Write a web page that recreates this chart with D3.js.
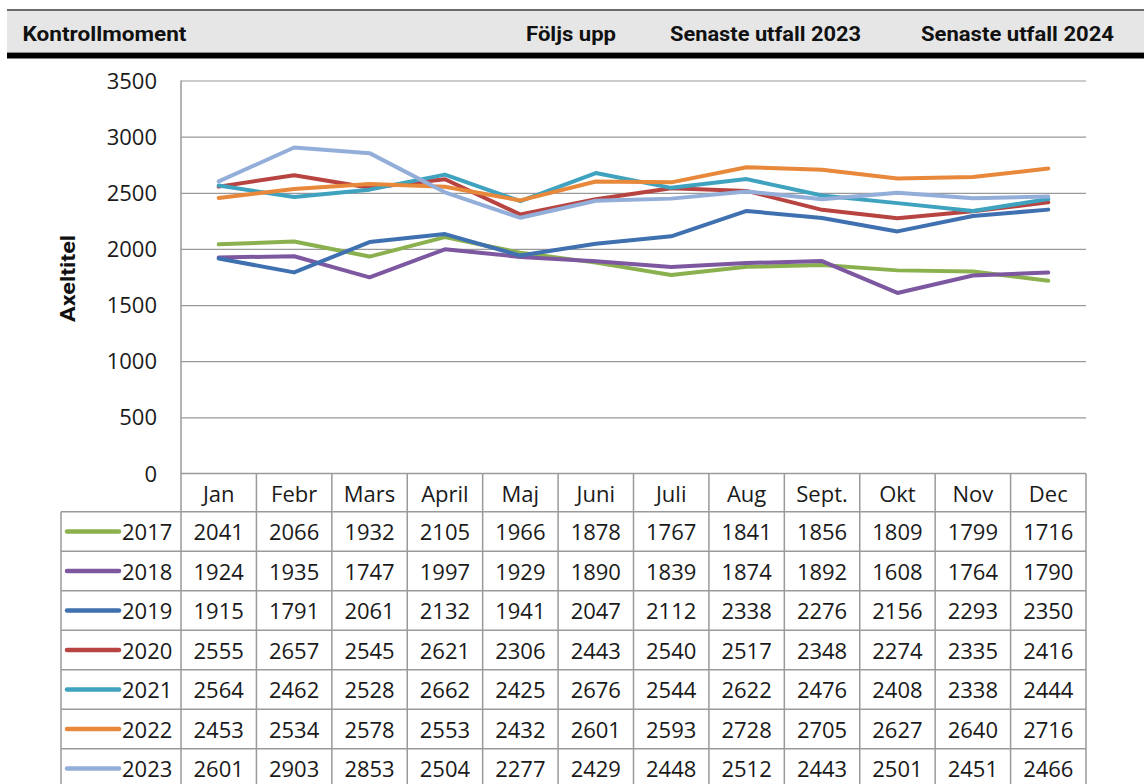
<!DOCTYPE html>
<html lang="sv">
<head>
    <meta charset="UTF-8">
    <title>Kontrollmoment</title>
    <script src="https://d3js.org/d3.v7.min.js"></script>
    <style>
        body { margin: 0; background: #fff; }
        svg { display: block; }
        .cell { font-family: "Open Sans", sans-serif; font-size: 22px; fill: #1a1a1a; }
        .head { font-family: Roboto, sans-serif; font-weight: 700; font-size: 20px; fill: #111; }
        .grid line { stroke: #9a9a9a; stroke-width: 1.2px; }
        .tbl { stroke: #9a9a9a; stroke-width: 1.5px; }
    </style>
</head>
<body>
<div id="chart"></div>
<script>
    // Data
    const months = ["Jan", "Febr", "Mars", "April", "Maj", "Juni", "Juli", "Aug", "Sept.", "Okt", "Nov", "Dec"];
    const years = ["2017", "2018", "2019", "2020", "2021", "2022", "2023"];
    const v2017 = [2041, 2066, 1932, 2105, 1966, 1878, 1767, 1841, 1856, 1809, 1799, 1716];
    const v2018 = [1924, 1935, 1747, 1997, 1929, 1890, 1839, 1874, 1892, 1608, 1764, 1790];
    const v2019 = [1915, 1791, 2061, 2132, 1941, 2047, 2112, 2338, 2276, 2156, 2293, 2350];
    const v2020 = [2555, 2657, 2545, 2621, 2306, 2443, 2540, 2517, 2348, 2274, 2335, 2416];
    const v2021 = [2564, 2462, 2528, 2662, 2425, 2676, 2544, 2622, 2476, 2408, 2338, 2444];
    const v2022 = [2453, 2534, 2578, 2553, 2432, 2601, 2593, 2728, 2705, 2627, 2640, 2716];
    const v2023 = [2601, 2903, 2853, 2504, 2277, 2429, 2448, 2512, 2443, 2501, 2451, 2466];
    const yTicks = [0, 500, 1000, 1500, 2000, 2500, 3000, 3500];
    const headers = ["Kontrollmoment", "Följs upp", "Senaste utfall 2023", "Senaste utfall 2024"];

    const seriesValues = [v2017, v2018, v2019, v2020, v2021, v2022, v2023];
    const colors = ["#8ab14e", "#7d58a0", "#3f70b0", "#b84441", "#3fa3bf", "#e8883a", "#94aeda"];

    const W = 1144, H = 784;
    const plotLeft = 181, plotRight = 1086, plotTop = 80.5, plotBottom = 473.5;
    const tableLeft = 61, headRowH = 38.2, rowH = 39.5;

    const svg = d3.select("#chart").append("svg").attr("width", W).attr("height", H);

    // Header band
    svg.append("rect").attr("x", 7).attr("y", 10).attr("width", W - 7).attr("height", 43).attr("fill", "#e6e6e6");
    svg.append("line").attr("x1", 7).attr("x2", W).attr("y1", 10).attr("y2", 10).attr("stroke", "#6b6b6b").attr("stroke-width", 2);
    svg.append("line").attr("x1", 7).attr("x2", W).attr("y1", 52.5).attr("y2", 52.5).attr("stroke", "#8a8a8a").attr("stroke-width", 1);
    svg.append("rect").attr("x", 7).attr("y", 53).attr("width", W - 7).attr("height", 5.5).attr("fill", "#000");

    const headPos = [[22.5, 164], [526, 90], [670, 191], [921, 193]];
    svg.selectAll(".head").data(headers).join("text")
        .attr("class", "head")
        .attr("x", (d, i) => headPos[i][0])
        .attr("y", 40.5)
        .attr("textLength", (d, i) => headPos[i][1])
        .attr("lengthAdjust", "spacingAndGlyphs")
        .style("font-size", "21px")
        .text(d => d);

    // Scales
    const x = d3.scaleBand().domain(months).range([plotLeft, plotRight]);
    const y = d3.scaleLinear().domain([0, 3500]).range([plotBottom, plotTop]);

    // Gridlines and y axis labels
    svg.append("g")
        .attr("class", "grid")
        .attr("transform", `translate(${plotLeft},0)`)
        .call(d3.axisLeft(y).tickValues(yTicks.slice(1)).tickSize(-(plotRight - plotLeft)).tickFormat(""))
        .call(g => g.select(".domain").remove());

    svg.selectAll(".ylab").data(yTicks).join("text")
        .attr("class", "cell ylab")
        .attr("x", 157)
        .attr("y", d => y(d) + 8)
        .attr("text-anchor", "end")
        .text(d => d);

    svg.append("text")
        .attr("class", "head")
        .attr("transform", "translate(75,278.5) rotate(-90)")
        .attr("x", -43.5)
        .attr("textLength", 87)
        .attr("lengthAdjust", "spacingAndGlyphs")
        .style("font-size", "21px")
        .text("Axeltitel");

    // Lines
    const line = d3.line()
        .x((d, i) => x(months[i]) + x.bandwidth() / 2)
        .y(d => y(d));

    svg.selectAll(".series").data(seriesValues).join("path")
        .attr("class", "series")
        .attr("d", line)
        .attr("fill", "none")
        .attr("stroke", (d, i) => colors[i])
        .attr("stroke-width", 4)
        .attr("stroke-linejoin", "round")
        .attr("stroke-linecap", "round");

    // Data table
    const rowTop = plotBottom + headRowH;
    const tableBottom = H + 10;
    const tbl = svg.append("g");

    // horizontal lines
    tbl.append("line").attr("class", "tbl")
        .attr("x1", plotLeft).attr("x2", plotRight).attr("y1", plotBottom).attr("y2", plotBottom);
    d3.range(years.length + 1).forEach(k => {
        tbl.append("line").attr("class", "tbl")
            .attr("x1", tableLeft).attr("x2", plotRight)
            .attr("y1", rowTop + k * rowH).attr("y2", rowTop + k * rowH);
    });
    // vertical lines
    tbl.append("line").attr("class", "tbl")
        .attr("x1", tableLeft).attr("x2", tableLeft).attr("y1", rowTop).attr("y2", tableBottom);
    tbl.append("line").attr("class", "tbl")
        .attr("x1", plotLeft).attr("x2", plotLeft).attr("y1", plotTop).attr("y2", tableBottom);
    months.forEach(m => {
        const xe = x(m) + x.bandwidth();
        tbl.append("line").attr("class", "tbl")
            .attr("x1", xe).attr("x2", xe).attr("y1", plotBottom).attr("y2", tableBottom);
    });

    // month header
    svg.selectAll(".mlab").data(months).join("text")
        .attr("class", "cell mlab")
        .attr("x", d => x(d) + x.bandwidth() / 2)
        .attr("y", plotBottom + 28)
        .attr("text-anchor", "middle")
        .text(d => d);

    // rows
    years.forEach((yr, r) => {
        const top = rowTop + r * rowH;
        svg.append("line")
            .attr("x1", 67).attr("x2", 119)
            .attr("y1", top + rowH / 2).attr("y2", top + rowH / 2)
            .attr("stroke", colors[r]).attr("stroke-width", 4.5).attr("stroke-linecap", "round");
        svg.append("text").attr("class", "cell")
            .attr("x", 122).attr("y", top + 28.5)
            .text(yr);
        svg.selectAll(null).data(seriesValues[r]).join("text")
            .attr("class", "cell")
            .attr("x", (d, i) => x(months[i]) + x.bandwidth() / 2)
            .attr("y", top + 28.5)
            .attr("text-anchor", "middle")
            .text(d => d);
    });
</script>
</body>
</html>
